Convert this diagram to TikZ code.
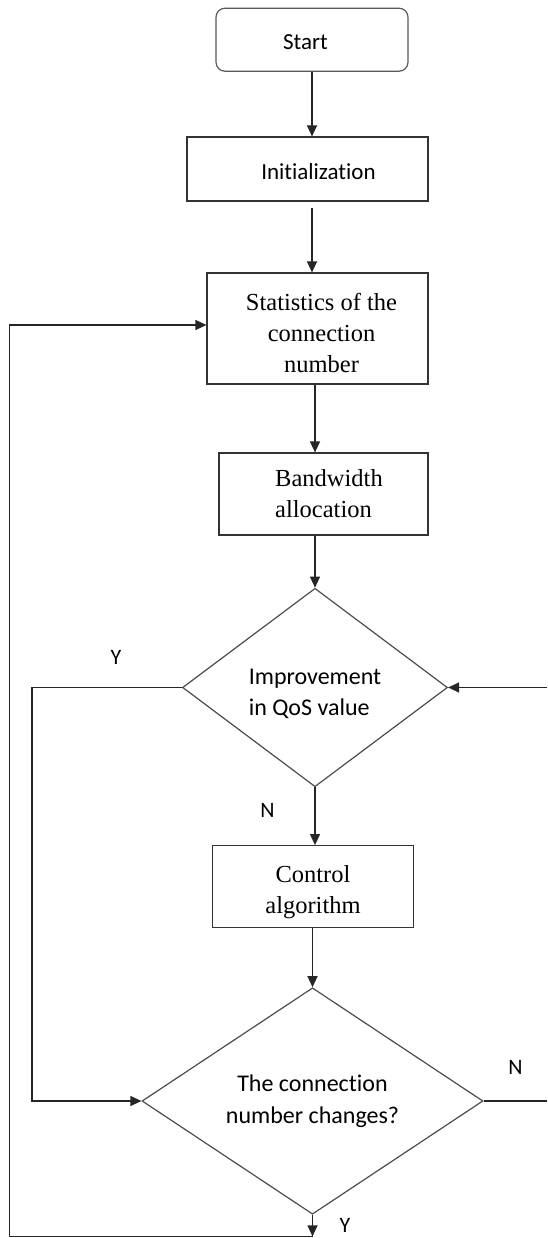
\documentclass[tikz,border=0pt]{standalone}
\usepackage{fontspec}
\setmainfont{Liberation Serif}
\newfontfamily\calib[Ligatures=NoCommon]{Carlito}
\usetikzlibrary{shapes.geometric,arrows.meta}
\begin{document}
\begin{tikzpicture}[x=1pt,y=-1pt,
  line/.style={draw=black!85, line width=1.2pt},
  arr/.style={line, -{Triangle[length=11pt,width=10pt]}},
  box/.style={draw=black!80, line width=1.2pt, rectangle, inner sep=0pt, align=center},
  sanstext/.style={font=\calib\fontsize{23}{31}\selectfont},
  seriftext/.style={font=\fontsize{24.5}{31}\selectfont},
  dec/.style={diamond, draw=black!70, line width=1.2pt, inner sep=0pt},
  lab/.style={font=\calib\fontsize{22}{22}\selectfont, inner sep=0pt}]
\useasboundingbox (0,0) rectangle (547,1238);
% boxes
\node[box, rounded corners=9pt, draw=black!65, minimum width=192pt, minimum height=63pt, sanstext] (start) at (312,39.7) {\rule{0pt}{19pt}Start\hspace*{13pt}};
\node[box, minimum width=241pt, minimum height=64pt, sanstext] (init) at (307.5,169) {\rule{0pt}{22pt}\hspace*{22pt}Initialization};
\node[box, minimum width=221pt, minimum height=111pt, seriftext] (stats) at (317.5,328.5) {\rule{0pt}{27pt}\hspace*{8pt}Statistics of the\\\hspace*{8pt}connection\\\hspace*{8pt}number};
\node[box, align=left, minimum width=209pt, minimum height=82pt, seriftext] (bw) at (323.5,494) {\hspace*{11pt}Bandwidth\\\hspace*{11pt}allocation};
\node[dec, align=left, minimum width=265pt, minimum height=198.5pt, font=\calib\fontsize{24}{31}\selectfont] (d1) at (315,687.5) {\rule{0pt}{28pt}Improvement\\in QoS value};
\node[box, minimum width=200.5pt, minimum height=81.6pt, seriftext] (ctrl) at (313,886.5) {\rule{0pt}{29pt}Control\\algorithm};
\node[dec, align=center, minimum width=341pt, minimum height=202pt, font=\calib\fontsize{24}{32.5}\selectfont] (d2) at (312.5,1101) {The connection\\number changes?};
% labels
\node[lab] (y1) at (116,657) {Y};
\node[lab] (n1) at (267.5,810) {N};
\node[lab] (n2) at (515.5,1067) {N};
\node[lab] (y2) at (345,1225) {Y};
% main flow
\draw[arr] (start.south) -- (start.south |- init.north);
\draw[arr, shorten <=6pt] (init.south -| start.south) -- (start.south |- stats.north);
\draw[arr] (stats.south -| d1.north) -- (d1.north |- bw.north);
\draw[arr] (bw.south -| d1.north) -- (d1.north);
\draw[arr] (d1.south) -- (d1.south |- ctrl.north);
\draw[arr] (ctrl.south -| d2.north) -- (d2.north);
% Y branch of QoS decision
\coordinate (yl) at (32,687.5);
\draw[arr] (d1.west) -- (yl) -- (yl |- d2.west) -- (d2.west);
% Y branch of connection decision: loop back
\coordinate (bl) at (9.4,1236.4);
\coordinate (tl) at (9.4,325);
\draw[arr] (d2.south) -- (d2.south |- bl);
\draw[arr] (d2.south |- bl) -- (bl) -- (tl) -- (tl -| stats.west);
% N branch to the right edge
\coordinate (rn) at (547,1101);
\coordinate (re) at (547,687.5);
\draw[line] (d2.east) -- (rn);
\draw[arr] (re) -- (d1.east);
\end{tikzpicture}
\end{document}
